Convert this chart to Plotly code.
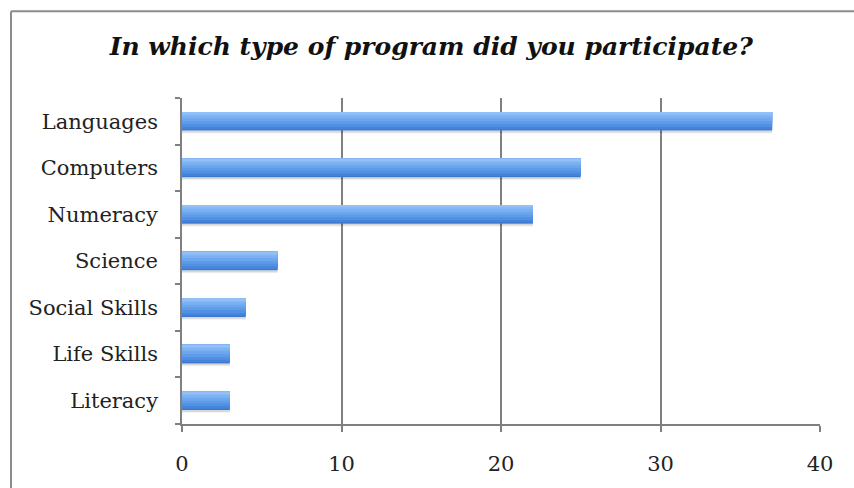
import plotly.graph_objects as go

categories = ["Literacy", "Life Skills", "Social Skills", "Science", "Numeracy", "Computers", "Languages"]
values = [3, 3, 4, 6, 22, 25, 37]
x_ticks = [0, 10, 20, 30, 40]
title_text = "In which type of program did you participate?"

fig = go.Figure()

# soft shadow under bars
for off, w, col in [(-0.26, 0.06, "rgba(0,0,0,0.06)"), (-0.24, 0.04, "rgba(0,0,0,0.10)")]:
    fig.add_trace(go.Bar(y=categories, x=values, orientation="h", offset=off, width=w,
                         marker=dict(color=col, line=dict(width=0)), hoverinfo="skip", showlegend=False))

# gradient layers (bottom dark to top light)
layers = [
    (-0.20, 0.40, "#3b78cf"),
    (-0.17, 0.37, "#4584d9"),
    (-0.12, 0.32, "#5190e2"),
    (-0.06, 0.26, "#5e9be8"),
    (0.00, 0.20, "#6ca6ee"),
    (0.06, 0.14, "#7bb0f2"),
    (0.12, 0.08, "#89baf5"),
    (0.16, 0.04, "#93c0f7"),
]
for off, w, col in layers:
    fig.add_trace(go.Bar(y=categories, x=values, orientation="h", offset=off, width=w,
                         marker=dict(color=col, line=dict(width=0)), showlegend=False))

grid_col = "#808080"
fig.update_layout(
    width=854, height=488,
    barmode="overlay",
    paper_bgcolor="white", plot_bgcolor="white",
    margin=dict(l=182, r=34, t=98, b=59),
    font=dict(family="DejaVu Serif", size=21, color="#222222"),
    title=dict(text="<b><i>" + title_text + "</i></b>", x=0.505, xref="container", xanchor="center",
               y=0.905, yref="container", yanchor="middle",
               font=dict(family="DejaVu Serif", size=25, color="#111111")),
    xaxis=dict(range=[0, 40], tickvals=x_ticks, showgrid=True, gridcolor=grid_col, gridwidth=1.6,
               zeroline=False, showline=True, linecolor=grid_col, linewidth=1.6,
               ticks="outside", ticklen=6, tickcolor=grid_col, tickwidth=1.6,
               ticklabelstandoff=14, fixedrange=True),
    yaxis=dict(categoryorder="array", categoryarray=categories, showgrid=False, zeroline=False,
               showline=True, linecolor=grid_col, linewidth=1.6,
               ticks="outside", ticklen=5, tickcolor=grid_col, tickwidth=1.6, tickson="boundaries",
               ticklabelstandoff=18, range=[-0.5, 6.5], fixedrange=True),
    shapes=[
        dict(type="line", xref="paper", yref="paper", x0=-0.268, x1=-0.268, y0=1.266, y1=-0.4,
             line=dict(color="#8c8c8c", width=2)),
        dict(type="line", xref="paper", yref="paper", x0=-0.268, x1=1.2, y0=1.266, y1=1.266,
             line=dict(color="#8c8c8c", width=2)),
    ],
)

fig.write_html("out.html", config={"displayModeBar": False},
               post_script="document.body.style.margin='0';")
